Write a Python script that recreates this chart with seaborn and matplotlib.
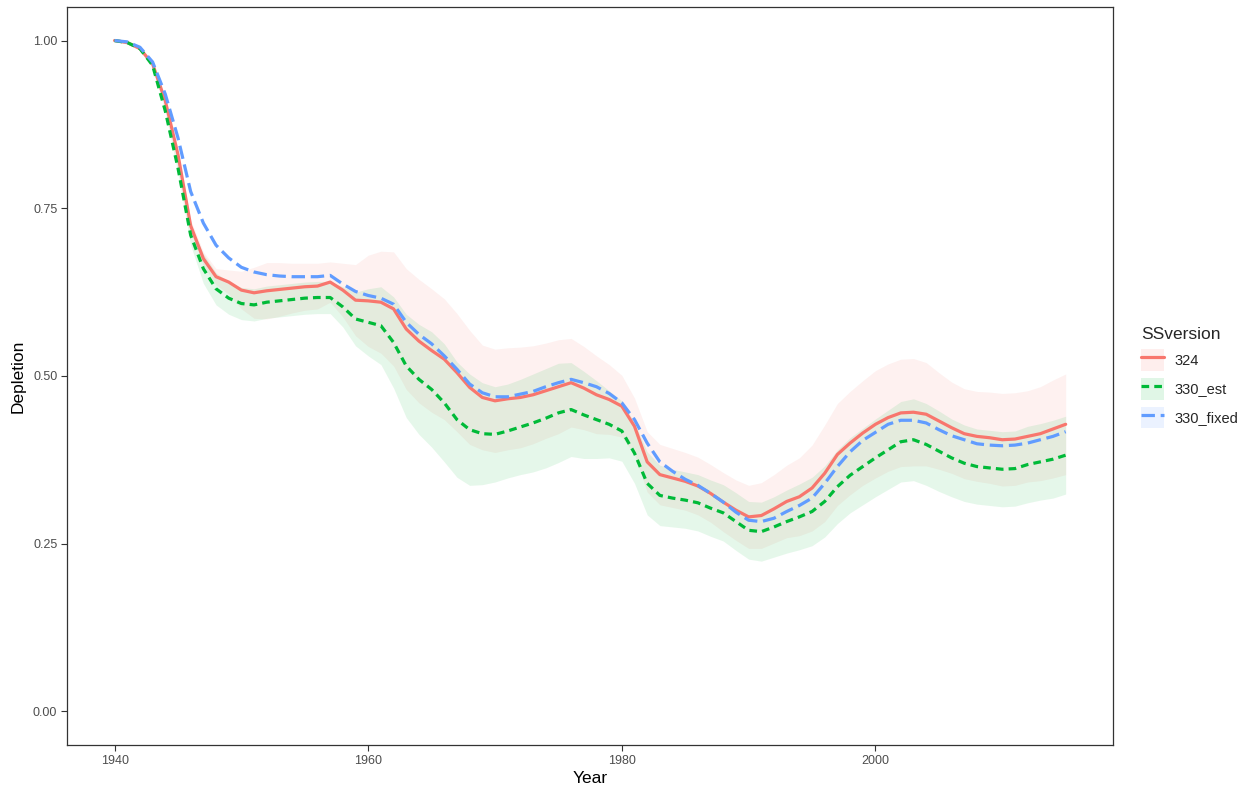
import numpy as np
import pandas as pd
import seaborn as sns
import matplotlib.pyplot as plt
from matplotlib.patches import Patch
from matplotlib.lines import Line2D

years = list(range(1940, 2016))

dep_324 = [1.000, 0.997, 0.988, 0.965, 0.910, 0.830, 0.724, 0.675, 0.648, 0.640,
           0.628, 0.624, 0.627, 0.629, 0.631, 0.633, 0.634, 0.640, 0.628, 0.613,
           0.612, 0.610, 0.600, 0.570, 0.552, 0.538, 0.525, 0.505, 0.483, 0.468,
           0.463, 0.466, 0.468, 0.472, 0.478, 0.484, 0.490, 0.482, 0.472, 0.465,
           0.455, 0.425, 0.372, 0.353, 0.348, 0.343, 0.336, 0.325, 0.312, 0.300,
           0.290, 0.292, 0.302, 0.313, 0.320, 0.333, 0.355, 0.383, 0.400, 0.415,
           0.428, 0.438, 0.445, 0.446, 0.443, 0.433, 0.423, 0.414, 0.410, 0.408,
           0.405, 0.406, 0.410, 0.414, 0.421, 0.428]
sd_324 = [0.002, 0.002, 0.002, 0.002, 0.002, 0.004, 0.008, 0.010, 0.012, 0.018,
          0.028, 0.038, 0.042, 0.040, 0.037, 0.035, 0.034, 0.030, 0.040, 0.053,
          0.068, 0.076, 0.085, 0.090, 0.092, 0.092, 0.090, 0.088, 0.085, 0.078,
          0.077, 0.076, 0.075, 0.073, 0.071, 0.070, 0.066, 0.062, 0.058, 0.052,
          0.046, 0.042, 0.045, 0.045, 0.044, 0.043, 0.043, 0.043, 0.044, 0.045,
          0.047, 0.049, 0.051, 0.054, 0.058, 0.064, 0.072, 0.076, 0.077, 0.078,
          0.080, 0.080, 0.080, 0.080, 0.077, 0.072, 0.068, 0.067, 0.067, 0.068,
          0.069, 0.069, 0.068, 0.070, 0.073, 0.075]

dep_330_est = [1.000, 0.997, 0.988, 0.963, 0.895, 0.810, 0.710, 0.660, 0.630, 0.616,
               0.608, 0.606, 0.610, 0.612, 0.614, 0.616, 0.617, 0.617, 0.603, 0.585,
               0.580, 0.575, 0.550, 0.515, 0.495, 0.480, 0.460, 0.435, 0.420, 0.414,
               0.413, 0.418, 0.424, 0.430, 0.437, 0.445, 0.450, 0.442, 0.435, 0.428,
               0.418, 0.385, 0.340, 0.322, 0.318, 0.315, 0.311, 0.303, 0.296, 0.283,
               0.270, 0.268, 0.275, 0.283, 0.290, 0.298, 0.313, 0.335, 0.352, 0.365,
               0.378, 0.390, 0.402, 0.405, 0.398, 0.388, 0.378, 0.370, 0.365, 0.363,
               0.361, 0.362, 0.368, 0.372, 0.376, 0.382]
sd_330_est = [0.002, 0.002, 0.002, 0.002, 0.002, 0.008, 0.015, 0.022, 0.024, 0.024,
              0.024, 0.024, 0.024, 0.024, 0.024, 0.024, 0.024, 0.024, 0.030, 0.040,
              0.050, 0.058, 0.068, 0.077, 0.082, 0.086, 0.088, 0.086, 0.083, 0.076,
              0.071, 0.070, 0.071, 0.073, 0.074, 0.074, 0.070, 0.065, 0.058, 0.050,
              0.045, 0.045, 0.047, 0.045, 0.043, 0.042, 0.042, 0.042, 0.042, 0.043,
              0.043, 0.044, 0.045, 0.047, 0.049, 0.051, 0.053, 0.055, 0.056, 0.057,
              0.058, 0.059, 0.060, 0.061, 0.061, 0.060, 0.058, 0.057, 0.056, 0.056,
              0.056, 0.056, 0.057, 0.057, 0.058, 0.058]

dep_330_fixed = [1.000, 0.998, 0.990, 0.968, 0.920, 0.855, 0.775, 0.728, 0.695, 0.676,
                 0.662, 0.655, 0.651, 0.649, 0.648, 0.648, 0.648, 0.650, 0.637, 0.626,
                 0.620, 0.616, 0.607, 0.580, 0.562, 0.548, 0.530, 0.510, 0.488, 0.475,
                 0.469, 0.469, 0.473, 0.477, 0.484, 0.490, 0.495, 0.490, 0.484, 0.474,
                 0.460, 0.435, 0.400, 0.372, 0.358, 0.346, 0.337, 0.325, 0.312, 0.297,
                 0.285, 0.283, 0.288, 0.298, 0.307, 0.318, 0.340, 0.365, 0.387, 0.404,
                 0.416, 0.428, 0.434, 0.434, 0.430, 0.420, 0.411, 0.405, 0.399, 0.397,
                 0.396, 0.397, 0.400, 0.405, 0.410, 0.417]
sd_330_fixed = [0.0] * len(years)

versions = ['324', '330_est', '330_fixed']
colors = {'324': '#F8766D', '330_est': '#00BA38', '330_fixed': '#619CFF'}
dashes = {'324': '', '330_est': (2.4, 1.6), '330_fixed': (4.2, 1.8)}

series = {'324': (dep_324, sd_324),
          '330_est': (dep_330_est, sd_330_est),
          '330_fixed': (dep_330_fixed, sd_330_fixed)}
dfs = []
for v in versions:
    d, s = series[v]
    df = pd.DataFrame({'Year': years, 'Depletion': d, 'sd': s})
    df['SSversion'] = v
    dfs.append(df)
df = pd.concat(dfs, ignore_index=True)
df['lo'] = df.Depletion - df.sd
df['hi'] = df.Depletion + df.sd

sns.set_theme(style='white')
plt.rcParams['font.family'] = ['Liberation Sans', 'DejaVu Sans']

fig = plt.figure(figsize=(12.48, 7.95), dpi=100)
ax = fig.add_axes([0.0537, 0.0629, 0.8383, 0.9283])

# uncertainty ribbons (330_fixed has none)
for v in versions:
    sub = df[df.SSversion == v]
    if sub.sd.max() > 0:
        ax.fill_between(sub.Year, sub.lo, sub.hi, color=colors[v], alpha=0.1, lw=0)

sns.lineplot(data=df, x='Year', y='Depletion', hue='SSversion', style='SSversion',
             hue_order=versions, style_order=versions, palette=colors, dashes=dashes,
             lw=2.3, ax=ax, legend=False)

ax.set_xlim(1936.25, 2018.75)
ax.set_ylim(-0.05, 1.05)
ax.set_xticks([1940, 1960, 1980, 2000])
ax.set_yticks([0.0, 0.25, 0.5, 0.75, 1.0])
ax.set_yticklabels(['0.00', '0.25', '0.50', '0.75', '1.00'])
ax.tick_params(axis='both', length=4, width=0.8, color='#333333',
               labelcolor='#4D4D4D', labelsize=9, pad=3, bottom=True, left=True)
for sp in ax.spines.values():
    sp.set_color('#333333')
    sp.set_linewidth(0.9)
ax.set_xlabel('Year', fontsize=12.5, color='black', labelpad=3)
ax.set_ylabel('Depletion', fontsize=12.5, color='black', labelpad=5)

handles = []
for v in versions:
    p = Patch(facecolor=colors[v], alpha=0.12, edgecolor='none')
    ln = Line2D([], [], color=colors[v], lw=2.3,
                dashes=dashes[v] if dashes[v] else (None, None))
    if v == '324':
        ln.set_linestyle('-')
    handles.append((p, ln))
leg = fig.legend(handles, versions, title='SSversion', loc='center left',
                 bbox_to_anchor=(0.906, 0.525), frameon=False, fontsize=10.5,
                 title_fontsize=12.5, handlelength=1.6, handleheight=1.9,
                 labelspacing=0.5, handletextpad=0.7, borderpad=0.2)
leg._legend_box.align = 'left'

fig.savefig('out.png', dpi=100)
